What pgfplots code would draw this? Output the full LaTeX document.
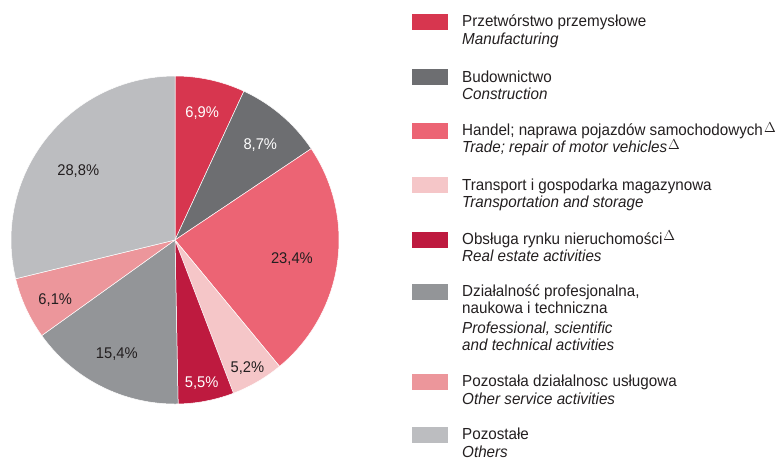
\documentclass[border=0pt]{standalone}
\usepackage{pgfplots}
\pgfplotsset{compat=1.18}
\usepackage{fontspec}
\setmainfont{Liberation Sans}[FakeStretch=0.95]
\definecolor{cA}{HTML}{D7364F}
\definecolor{cB}{HTML}{6D6E71}
\definecolor{cC}{HTML}{EC6474}
\definecolor{cD}{HTML}{F5C6C8}
\definecolor{cE}{HTML}{BE1A3F}
\definecolor{cF}{HTML}{939598}
\definecolor{cG}{HTML}{EC969B}
\definecolor{cH}{HTML}{BCBDC0}
\definecolor{txt}{HTML}{231F20}
% shares in percent (clockwise from 12 o'clock)
\def\vA{6.9}\def\vB{8.7}\def\vC{23.4}\def\vD{5.2}
\def\vE{5.5}\def\vF{15.4}\def\vG{6.1}\def\vH{28.8}
\pgfmathsetmacro\aA{90}
\pgfmathsetmacro\aB{\aA-3.6*\vA}
\pgfmathsetmacro\aC{\aB-3.6*\vB}
\pgfmathsetmacro\aD{\aC-3.6*\vC}
\pgfmathsetmacro\aE{\aD-3.6*\vD}
\pgfmathsetmacro\aF{\aE-3.6*\vE}
\pgfmathsetmacro\aG{\aF-3.6*\vF}
\pgfmathsetmacro\aH{\aG-3.6*\vG}
\pgfmathsetmacro\aI{\aH-3.6*\vH}
\newcommand{\pfont}{\fontsize{15.5}{17.5}\selectfont}
\newcommand{\lfont}{\fontsize{16}{18}\selectfont}
\newcommand{\dlt}[1]{\kern1pt\raisebox{#1}{\fontsize{14.5}{14.5}\selectfont$\Delta$}}
\begin{document}
\begin{tikzpicture}
\path[use as bounding box] (0pt,0pt) rectangle (779pt,-459pt);
\begin{axis}[
  scale only axis, width=328pt, height=328pt,
  xmin=-1, xmax=1, ymin=-1, ymax=1,
  hide axis, clip=false,
  at={(175pt,-240pt)}, anchor=center,
  every axis plot/.append style={draw=white, line width=0.5pt, samples=80, variable=\t},
]
\addplot[fill=cA, domain=\aB:\aA] ({cos(\t)},{sin(\t)}) -- (axis cs:0,0) -- cycle;
\addplot[fill=cB, domain=\aC:\aB] ({cos(\t)},{sin(\t)}) -- (axis cs:0,0) -- cycle;
\addplot[fill=cC, domain=\aD:\aC] ({cos(\t)},{sin(\t)}) -- (axis cs:0,0) -- cycle;
\addplot[fill=cD, domain=\aE:\aD] ({cos(\t)},{sin(\t)}) -- (axis cs:0,0) -- cycle;
\addplot[fill=cE, domain=\aF:\aE] ({cos(\t)},{sin(\t)}) -- (axis cs:0,0) -- cycle;
\addplot[fill=cF, domain=\aG:\aF] ({cos(\t)},{sin(\t)}) -- (axis cs:0,0) -- cycle;
\addplot[fill=cG, domain=\aH:\aG] ({cos(\t)},{sin(\t)}) -- (axis cs:0,0) -- cycle;
\addplot[fill=cH, domain=\aI:\aH] ({cos(\t)},{sin(\t)}) -- (axis cs:0,0) -- cycle;
\begin{scope}[every node/.style={anchor=base, inner sep=0pt, font=\pfont}]
\node[white] at (axis cs:0.166,0.746) {6,9\%};
\node[white] at (axis cs:0.520,0.551) {8,7\%};
\node[txt] at (axis cs:0.713,-0.145) {23,4\%};
\node[txt] at (axis cs:0.442,-0.806) {5,2\%};
\node[white] at (axis cs:0.163,-0.898) {5,5\%};
\node[txt] at (axis cs:-0.355,-0.720) {15,4\%};
\node[txt] at (axis cs:-0.730,-0.394) {6,1\%};
\node[txt] at (axis cs:-0.590,0.395) {28,8\%};
\end{scope}
\end{axis}
% legend
\begin{scope}[every node/.style={anchor=base west, inner sep=0pt, font=\lfont, text=txt}]
\fill[cA] (412pt,-14pt) rectangle (448pt,-30pt);
\node at (462pt,-26.7pt) {Przetwórstwo przemysłowe};
\node at (462pt,-44.3pt) {\itshape Manufacturing};
\fill[cB] (412pt,-69pt) rectangle (448pt,-85pt);
\node at (462pt,-82pt) {Budownictwo};
\node at (462pt,-99.5pt) {\itshape Construction};
\fill[cC] (412pt,-123pt) rectangle (448pt,-139pt);
\node at (462pt,-135pt) {Handel; naprawa pojazdów samochodowych\dlt{3pt}};
\node at (462pt,-152.5pt) {\itshape Trade; repair of motor vehicles\dlt{3pt}};
\fill[cD] (412pt,-177pt) rectangle (448pt,-193pt);
\node at (462pt,-190pt) {Transport i gospodarka magazynowa};
\node at (462pt,-207pt) {\itshape Transportation and storage};
\fill[cE] (412pt,-232pt) rectangle (448pt,-248pt);
\node at (462pt,-244pt) {Obsługa rynku nieruchomości\dlt{3.5pt}};
\node at (462pt,-261.7pt) {\itshape Real estate activities};
\fill[cF] (412pt,-284pt) rectangle (448pt,-300pt);
\node at (462pt,-296.7pt) {Działalność profesjonalna,};
\node at (462pt,-313.5pt) {naukowa i techniczna};
\node at (462pt,-333pt) {\itshape Professional, scientific};
\node at (462pt,-350pt) {\itshape and technical activities};
\fill[cG] (412pt,-374pt) rectangle (448pt,-390pt);
\node at (462pt,-386.7pt) {Pozostała działalnosc usługowa};
\node at (462pt,-404pt) {\itshape Other service activities};
\fill[cH] (412pt,-427pt) rectangle (448pt,-443pt);
\node at (462pt,-439.3pt) {Pozostałe};
\node at (462pt,-457pt) {\itshape Others};
\end{scope}
\end{tikzpicture}
\end{document}
